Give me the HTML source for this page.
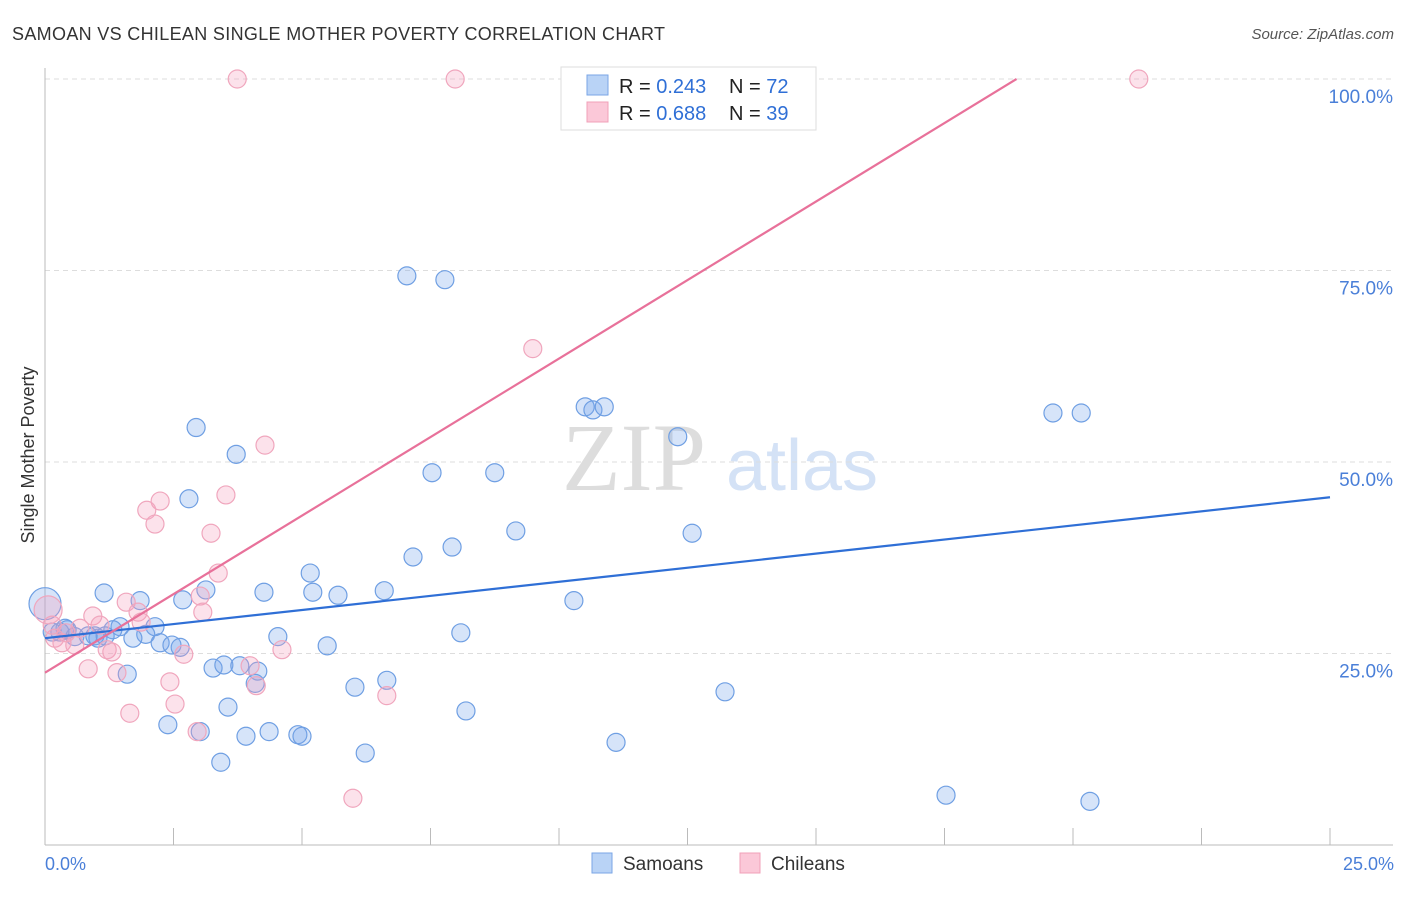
<!DOCTYPE html>
<html><head><meta charset="utf-8"><style>
body{margin:0;background:#fff;font-family:"Liberation Sans",sans-serif}
svg text{font-family:"Liberation Sans",sans-serif}
</style></head><body>
<svg id="chart" width="1406" height="892" xmlns="http://www.w3.org/2000/svg">
<text x="12" y="40" font-size="18" fill="#333" textLength="653">SAMOAN VS CHILEAN SINGLE MOTHER POVERTY CORRELATION CHART</text>
<text x="1394" y="39" font-size="15" fill="#555" text-anchor="end" font-style="italic">Source: ZipAtlas.com</text>
<text x="634" y="490" font-size="96" fill="#ddd" text-anchor="middle" font-family="Liberation Serif" style="font-family:'Liberation Serif',serif">ZIP</text>
<text x="802" y="490" font-size="72" fill="#d4e2f6" text-anchor="middle">atlas</text>
<g id="grid"></g><g id="marks"></g><g id="lines"></g>
<text transform="translate(34,455) rotate(-90)" font-size="18" fill="#333" text-anchor="middle">Single Mother Poverty</text>
<text x="45" y="870" font-size="18" fill="#4a7fd8">0.0%</text>
<text x="1394" y="870" font-size="18" fill="#4a7fd8" text-anchor="end">25.0%</text>
<g>
<rect x="561" y="67" width="255" height="63" fill="#fff" stroke="#ddd"/>
<rect x="587" y="75" width="21" height="20" fill="#b9d3f6" stroke="#7aa6e6"/>
<rect x="587" y="102" width="21" height="20" fill="#fbc8d8" stroke="#f0a0b8"/>
<text x="619" y="93" font-size="20" fill="#222">R = <tspan fill="#2f6fd6">0.243</tspan></text>
<text x="729" y="93" font-size="20" fill="#222">N = <tspan fill="#2f6fd6">72</tspan></text>
<text x="619" y="120" font-size="20" fill="#222">R = <tspan fill="#2f6fd6">0.688</tspan></text>
<text x="729" y="120" font-size="20" fill="#222">N = <tspan fill="#2f6fd6">39</tspan></text>
</g>
<g>
<rect x="592" y="853" width="20" height="20" fill="#b9d3f6" stroke="#7aa6e6"/>
<text x="623" y="870" font-size="19" fill="#333">Samoans</text></g>
<g>
<rect x="740" y="853" width="20" height="20" fill="#fbc8d8" stroke="#f0a0b8"/>
<text x="771" y="870" font-size="19" fill="#333">Chileans</text></g>
</svg>
<script>
const samoanX=[7.04,7.78,2.94,3.72,7.53,8.75,2.80,9.16,12.59,7.16,7.92,1.15,1.85,3.13,2.68,4.26,5.16,5.21,5.70,6.60,10.29,2.14,1.46,1.96,1.71,2.24,2.47,2.63,1.03,0.84,0.43,0.58,0.29,4.53,5.49,8.09,1.60,3.27,3.48,3.79,4.14,6.03,6.65,4.09,3.56,8.19,13.23,2.39,3.02,3.91,4.36,4.92,5.00,3.42,6.23,11.11,17.53,20.33,12.31,10.51,10.66,10.88,19.61,20.16,0.97,1.32,0.39,1.17,0.14,0.0];
const samoanY=[74.3,73.8,54.5,51.0,48.6,48.6,45.2,41.0,40.7,37.6,38.9,32.9,31.9,33.3,32.0,33.0,35.5,33.0,32.6,33.2,31.9,28.5,28.5,27.5,27.0,26.4,26.1,25.8,27.0,27.3,28.1,27.2,27.8,27.2,26.0,27.7,22.3,23.1,23.5,23.4,22.7,20.6,21.5,21.1,18.0,17.5,20.0,15.7,14.8,14.2,14.8,14.4,14.2,10.8,12.0,13.4,6.5,5.7,53.3,57.2,56.8,57.2,56.4,56.4,27.3,28.1,28.3,27.3,27.8,31.5];
const chileanX=[3.74,7.98,21.28,9.49,4.28,3.52,2.24,1.98,2.14,3.23,3.37,3.02,1.58,1.81,0.93,3.07,1.87,1.07,0.68,0.19,0.33,0.58,1.21,1.30,2.70,4.61,0.84,1.40,3.99,2.43,4.11,2.53,6.65,1.65,2.96,5.99,0.41,0.14,0.06];
const chileanY=[100,100,100,64.8,52.2,45.7,44.9,43.7,41.9,40.7,35.5,32.5,31.7,30.4,29.9,30.4,29.1,28.7,28.3,27.0,26.4,26.1,25.5,25.2,24.9,25.5,23.0,22.5,23.4,21.3,20.8,18.4,19.5,17.2,14.8,6.1,27.7,28.7,30.7];
const trendIntercept=[27.0,22.5];
const trendSlope=[0.736,4.10];
const yTicks=[25,50,75,100];
const yTickLabels=["25.0%","50.0%","75.0%","100.0%"];
const xTicks=[0,2.5,5,7.5,10,12.5,15,17.5,20,22.5,25];
const NS="http://www.w3.org/2000/svg";
const sx=v=>45+v/25*1285, sy=v=>845-v/100*766;
function mk(tag,attrs,parent){const e=document.createElementNS(NS,tag);for(const k in attrs)e.setAttribute(k,attrs[k]);parent.appendChild(e);return e;}
const grid=document.getElementById('grid'),marks=document.getElementById('marks'),lines=document.getElementById('lines');
yTicks.forEach((t,i)=>{
 const l=mk('line',{x1:45,x2:1393,y1:sy(t),y2:sy(t),stroke:'#ddd','stroke-dasharray':'5,4'},grid);
 
 
 const tx=mk('text',{x:1393,y:sy(t)+24,'font-size':19,fill:'#4a7fd8','text-anchor':'end'},grid);
 tx.textContent=yTickLabels[i];
 
 
});
const ax=mk('line',{x1:45,x2:1393,y1:845,y2:845,stroke:'#bbb'},grid);


const ay=mk('line',{x1:45,x2:45,y1:68,y2:845,stroke:'#bbb'},grid);


xTicks.forEach(t=>{
 const l=mk('line',{x1:sx(t),x2:sx(t),y1:828,y2:845,stroke:'#bbb'},grid);
 
 
});
samoanX.forEach((v,i)=>{
 const big=(v===0);
 const c=mk('circle',{cx:sx(v),cy:sy(samoanY[i]),r:big?16:9,fill:'rgba(120,165,235,0.3)',stroke:'#6f9fe3','stroke-width':1.2},marks);
 
 
});
chileanX.forEach((v,i)=>{
 const big=(i===chileanX.length-1);
 const c=mk('circle',{cx:sx(v),cy:sy(chileanY[i]),r:big?14:9,fill:'rgba(245,160,190,0.3)',stroke:'#f0a6bd','stroke-width':1.2},marks);
 
 
});
const b=mk('line',{x1:sx(0),y1:sy(trendIntercept[0]),x2:sx(25),y2:sy(trendIntercept[0]+trendSlope[0]*25),stroke:'#2f6fd6','stroke-width':2.2},lines);


const xe=(100-trendIntercept[1])/trendSlope[1];
const p=mk('line',{x1:sx(0),y1:sy(trendIntercept[1]),x2:sx(xe),y2:sy(100),stroke:'#e8719a','stroke-width':2.2},lines);


</script>
</body></html>
